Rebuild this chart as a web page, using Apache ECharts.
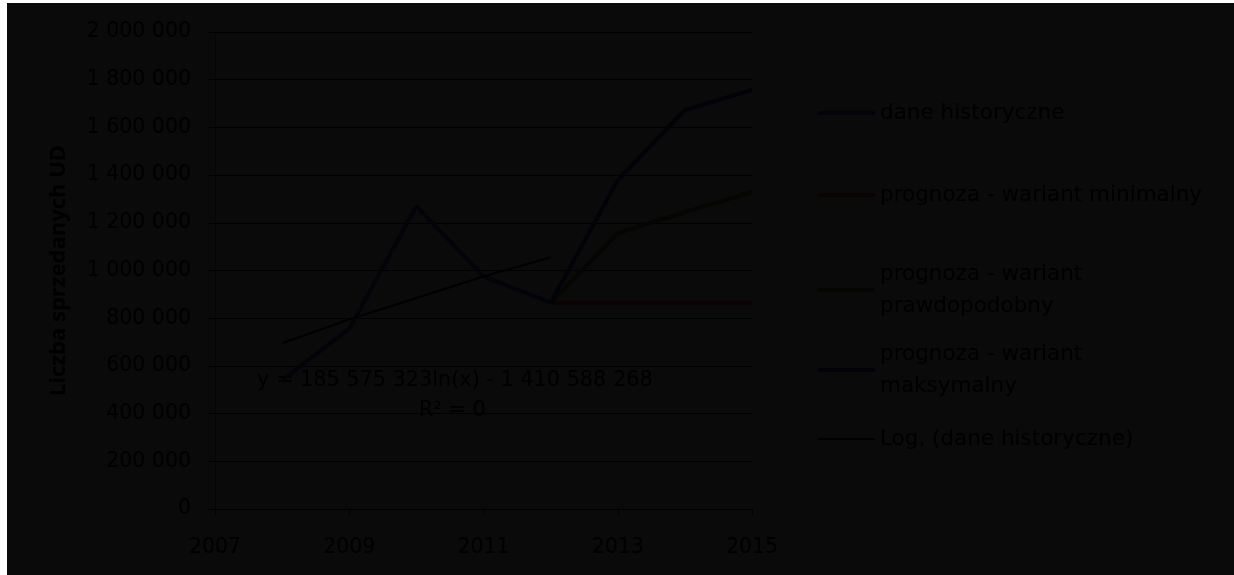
<!DOCTYPE html>
<html>
<head>
<meta charset="utf-8">
<script src="https://cdn.jsdelivr.net/npm/echarts@6/dist/echarts.min.js"></script>
<style>
  html, body { margin: 0; padding: 0; background: #ffffff; }
  #frame { position: absolute; left: 7px; top: 3px; right: 0; bottom: 0; background: #0a0a0a; }
  #chart { position: absolute; left: 0; top: 0; width: 1234px; height: 575px; }
</style>
</head>
<body>
<div id="frame"></div>
<div id="chart"></div>
<script>
// years on the axis
const years = ["2007", "2008", "2009", "2010", "2011", "2012", "2013", "2014", "2015"];

// values
const historyczne = [null, 540000, 755000, 1270000, 975000, 865000, null, null, null];
const wariantMin = [null, null, null, null, null, 865000, 865000, 865000, 865000];
const wariantPraw = [null, null, null, null, null, 865000, 1157000, 1245000, 1329000];
const wariantMax = [null, null, null, null, null, 865000, 1379000, 1673000, 1757000];
const trendLog = [null, 695000, 795000, 885000, 975000, 1055000, null, null, null];

const names = [
  "dane historyczne",
  "prognoza - wariant minimalny",
  "prognoza - wariant prawdopodobny",
  "prognoza - wariant maksymalny",
  "Log. (dane historyczne)",
];

const fontFamily = "DejaVu Sans";
const textColor = "#000000";

const chart = echarts.init(document.getElementById("chart"), null, { renderer: "canvas" });

const legendItem = (name, top, wrapped, thick) => ({
  data: [name],
  left: 813,
  top: top,
  orient: "vertical",
  icon: "rect",
  itemWidth: 57,
  itemHeight: thick,
  itemGap: 0,
  selectedMode: false,
  formatter: (n) => {
    if (n === names[2]) return "prognoza - wariant\nprawdopodobny";
    if (n === names[3]) return "prognoza - wariant\nmaksymalny";
    return n;
  },
  textStyle: {
    color: textColor,
    fontFamily: fontFamily,
    fontSize: 21.5,
    lineHeight: 32,
    padding: wrapped ? [32, 0, 0, 0] : 0,
  },
});

const lineSeries = (name, data, color, width) => ({
  name: name,
  type: "line",
  data: data,
  symbol: "none",
  connectNulls: false,
  lineStyle: { color: color, width: width },
  itemStyle: { color: color },
  emphasis: { disabled: true },
});

const option = {
  animation: false,
  backgroundColor: "transparent",
  grid: { left: 215, top: 32, right: 482, bottom: 66, containLabel: false },
  legend: [
    legendItem(names[0], 92, false, 4),
    legendItem(names[1], 174, false, 4),
    legendItem(names[2], 237, true, 4),
    legendItem(names[3], 317, true, 4),
    legendItem(names[4], 418, false, 2),
  ],
  xAxis: {
    type: "category",
    data: years,
    boundaryGap: false,
    axisLine: { show: true, lineStyle: { color: "#000000", width: 1 } },
    axisTick: { show: true, interval: 1, length: 6, inside: false, lineStyle: { color: "#000000" } },
    axisLabel: {
      interval: 1,
      color: textColor,
      fontFamily: fontFamily,
      fontSize: 20.5,
      margin: 28,
    },
    splitLine: { show: false },
  },
  yAxis: {
    type: "value",
    min: 0,
    max: 2000000,
    interval: 200000,
    name: "Liczba sprzedanych UD",
    nameLocation: "middle",
    nameGap: 145,
    nameRotate: 90,
    nameTextStyle: { color: textColor, fontFamily: "Open Sans", fontSize: 22, fontWeight: "bold" },
    axisLine: { show: true, lineStyle: { color: "#050505", width: 1 } },
    axisTick: { show: true, length: 8, lineStyle: { color: "#000000" } },
    axisLabel: {
      color: textColor,
      fontFamily: fontFamily,
      fontSize: 20.5,
      margin: 24,
      formatter: (v) => String(v).replace(/\B(?=(\d{3})+(?!\d))/g, " "),
    },
    splitLine: { show: true, lineStyle: { color: "#000000", width: 1 } },
  },
  series: [
    lineSeries(names[0], historyczne, "#020409", 4),
    lineSeries(names[1], wariantMin, "#0b0202", 4),
    lineSeries(names[2], wariantPraw, "#050602", 4),
    lineSeries(names[3], wariantMax, "#020308", 4),
    lineSeries(names[4], trendLog, "#000000", 2),
  ],
  graphic: [
    {
      type: "text",
      left: 257,
      top: 370,
      style: {
        text: "y = 185 575 323ln(x) - 1 410 588 268",
        fill: textColor,
        font: "20.8px 'DejaVu Sans'",
      },
    },
    {
      type: "text",
      left: 419,
      top: 400,
      style: {
        text: "R² = 0",
        fill: textColor,
        font: "20.8px 'DejaVu Sans'",
      },
    },
  ],
};

chart.setOption(option);
</script>
</body>
</html>
